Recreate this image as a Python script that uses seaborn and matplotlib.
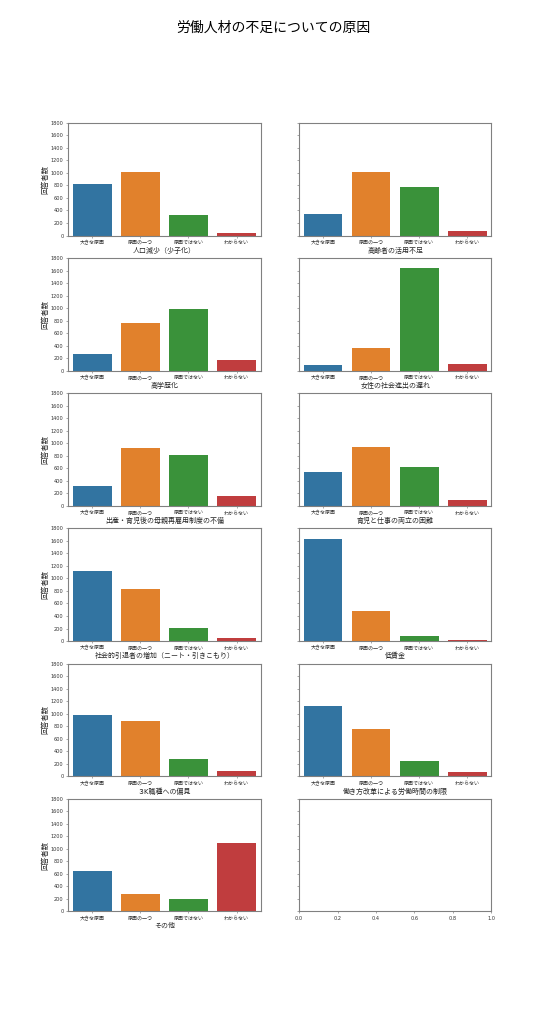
import pandas as pd
import seaborn as sns
import matplotlib
matplotlib.use('Agg')
import matplotlib.pyplot as plt

# answer categories (x axis of every panel)
answers = ['大きな原因', '原因の一つ', '原因ではない', 'わからない']

# the causes asked about, one panel each
causes = [
    '人口減少（少子化）',
    '高齢者の活用不足',
    '高学歴化',
    '女性の社会進出の遅れ',
    '出産・育児後の母親再雇用制度の不備',
    '育児と仕事の両立の困難',
    '社会的引退者の増加（ニート・引きこもり）',
    '低賃金',
    '３K職種への偏見',
    '働き方改革による労働時間の制限',
    'その他',
]

# number of respondents per answer, in the same order as causes
big_cause = [830, 340, 270, 85, 320, 545, 1125, 1630, 985, 1115, 650]
one_cause = [1015, 1010, 770, 360, 920, 935, 830, 475, 880, 760, 270]
not_cause = [325, 780, 980, 1645, 805, 620, 215, 80, 270, 250, 205]
unknown = [35, 70, 175, 110, 155, 95, 50, 20, 80, 70, 1085]

rows = []
for i, c in enumerate(causes):
    for a, v in zip(answers, [big_cause[i], one_cause[i], not_cause[i], unknown[i]]):
        rows.append({'cause': c, 'answer': a, 'count': v})
df = pd.DataFrame(rows)

# DejaVu for digits, Noto CJK for the Japanese text
plt.rcParams['font.family'] = ['DejaVu Sans', 'Noto Sans CJK JP']
plt.rcParams['axes.edgecolor'] = '0.5'
plt.rcParams['axes.linewidth'] = 0.8

fig, axes = plt.subplots(6, 2, figsize=(5.46, 10.24), dpi=100, sharey=True)
fig.suptitle('労働人材の不足についての原因', fontsize=10)

for ax, c in zip(axes.flat, causes):
    sub = df[df['cause'] == c]
    sns.barplot(data=sub, x='answer', y='count', hue='answer', order=answers,
                hue_order=answers, legend=False, ax=ax)
    ax.set_xlabel(c, fontsize=5, labelpad=1, color='0.15')
    ax.set_ylabel('回答者数', fontsize=5.2, labelpad=2, color='0.15')

for ax in axes.flat:
    ax.set_ylim(0, 1800)
    ax.set_yticks(range(0, 1801, 200))
    ax.tick_params(labelsize=3.6, length=1.75, width=0.4, pad=1.5,
                   color='0.4', labelcolor='0.2')

plt.savefig('out.png', dpi=100)
